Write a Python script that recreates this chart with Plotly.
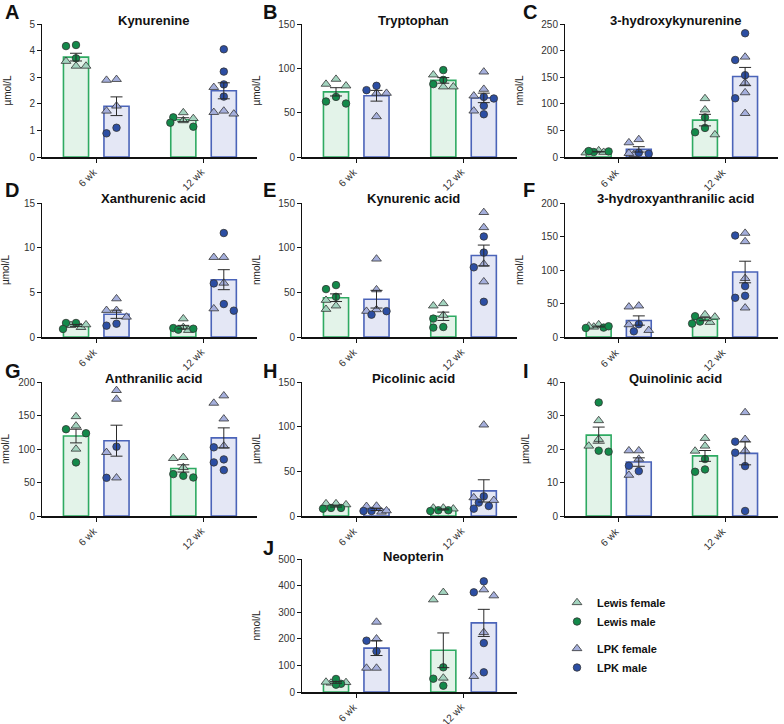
import numpy as np
import plotly.graph_objects as go

# ---------------- data ----------------
groups = ["6 wk", "12 wk"]
series_names = ["Lewis female", "Lewis male", "LPK female", "LPK male"]

titles = ["Kynurenine", "Tryptophan", "3-hydroxykynurenine", "Xanthurenic acid",
          "Kynurenic acid", "3-hydroxyanthranilic acid", "Anthranilic acid",
          "Picolinic acid", "Quinolinic acid", "Neopterin"]
letters = ["A", "B", "C", "D", "E", "F", "G", "H", "I", "J"]
units = ["µmol/L", "µmol/L", "nmol/L", "µmol/L", "nmol/L", "nmol/L", "nmol/L",
         "µmol/L", "µmol/L", "nmol/L"]
y_max = [5, 150, 250, 15, 150, 200, 200, 150, 40, 500]
y_dtick = [1, 50, 50, 5, 50, 50, 50, 50, 10, 100]

# each: [6 wk values, 12 wk values]
kynurenine = {
    "lewis_f": [[3.42, 3.6, 3.42], [1.67, 1.45, 1.37]],
    "lewis_m": [[4.21, 4.17, 3.71], [1.49, 1.14, 1.29]],
    "lpk_f": [[2.89, 2.92, 1.73, 1.92], [2.62, 1.62, 1.73, 1.68]],
    "lpk_m": [[0.89, 1.10], [4.05, 3.21, 2.73, 2.27]],
}
tryptophan = {
    "lewis_f": [[87.8, 80.3, 82.2], [79.2, 92.7, 79.2]],
    "lewis_m": [[60.3, 67.8, 62.6], [82.2, 98, 87]],
    "lpk_f": [[72, 45.6, 72], [96, 76.5, 69, 52]],
    "lpk_m": [[75.4, 80.3], [67.8, 48.2, 57.7, 66]],
}
hydroxykynurenine = {
    "lewis_f": [[12, 8, 9], [110, 88.7, 42]],
    "lewis_m": [[9.3, 11.2, 10.5], [74.4, 54.6, 46.5]],
    "lpk_f": [[27, 33, 5, 7], [188, 139.6, 121, 82]],
    "lpk_m": [[8, 6], [232.6, 182.4, 153.8, 110.4]],
}
xanthurenic = {
    "lewis_f": [[1.08, 1.31, 1.38], [2.05, 1.08, 0.75]],
    "lewis_m": [[1.57, 1.57, 0.9], [0.93, 1.0, 0.82]],
    "lpk_f": [[4.29, 2.99, 2.99, 2.24], [8.92, 8.92, 6.04, 3.17]],
    "lpk_m": [[1.27, 1.49], [11.64, 6.0, 3.69, 2.95]],
}
kynurenic = {
    "lewis_f": [[41.2, 31.1, 34.9], [34.9, 37.5, 24.4]],
    "lewis_m": [[53.6, 58.1, 45], [10.5, 11.2, 20.6]],
    "lpk_f": [[87.4, 53, 30.7, 28.9], [139.5, 122.6, 81.7, 61.9]],
    "lpk_m": [[25, 28.9], [112.5, 94.5, 78, 39.4]],
}
hydroxyanthranilic = {
    "lewis_f": [[18.5, 15, 16.5], [30, 33.5, 22]],
    "lewis_m": [[14, 16, 13.5], [20, 31, 23]],
    "lpk_f": [[45, 46.5, 18.5, 10], [155, 142.5, 87.5, 43.5]],
    "lpk_m": [[19, 8.5], [151.5, 76, 61.5, 58.5]],
}
anthranilic = {
    "lewis_f": [[148.5, 134.5, 100], [86, 87.5, 72.5]],
    "lewis_m": [[123.5, 129.5, 80], [57.5, 62.5, 60]],
    "lpk_f": [[187.5, 174.5, 95, 57], [179.5, 168.5, 145, 104.5]],
    "lpk_m": [[103.5, 57], [102.5, 84.5, 68.5, 80]],
}
picolinic = {
    "lewis_f": [[13.9, 13.9, 12.7], [9, 9, 8]],
    "lewis_m": [[9, 9, 8.2], [6.4, 6.4, 5.6]],
    "lpk_f": [[4.5, 10.9, 11.2, 6], [102, 17.6, 20.6]],
    "lpk_m": [[5.6, 5.6], [22, 8.2, 11.2, 15]],
}
quinolinic = {
    "lewis_f": [[28.5, 22.9, 20.9], [20.9, 23.2, 19.4]],
    "lewis_m": [[33.9, 19.2, 19.5], [13.2, 17, 13.9]],
    "lpk_f": [[19.5, 19.5, 17, 12.2], [30.9, 22.9, 19.5]],
    "lpk_m": [[15, 13.4], [22.2, 18.9, 14.9, 1.5]],
}
neopterin = {
    "lewis_f": [[36, 34, 37.6], [374.7, 347, 52.6]],
    "lewis_m": [[31, 49, 27.5], [92.7, 23.8, 50]],
    "lpk_f": [[263, 200, 90, 90], [362, 384.7, 224, 59]],
    "lpk_m": [[193, 153], [416, 374.7, 184, 74]],
}
panels = [kynurenine, tryptophan, hydroxykynurenine, xanthurenic, kynurenic,
          hydroxyanthranilic, anthranilic, picolinic, quinolinic, neopterin]

# ---------------- layout / style ----------------
W, H = 784, 724
FONT = "Arial, Liberation Sans, Helvetica, sans-serif"
col_px = [(42, 257), (302, 517), (565, 778)]
row_px = [(24, 157), (203, 337), (382, 516), (559, 692)]
title_y_px = [20, 198, 378, 556]
letter_y_px = [12, 190, 371, 548]
letter_x_px = [3, 261, 521]
grid_pos = [(0, 0), (1, 0), (2, 0), (0, 1), (1, 1), (2, 1), (0, 2), (1, 2), (2, 2), (1, 3)]

lewis_fill, lewis_line = "#e3f3e9", "#2eaa62"
lpk_fill, lpk_line = "#e4e7f5", "#4b64b9"
col_lewis_f, col_lewis_m = "#a3d4bf", "#13894a"
col_lpk_f, col_lpk_m = "#a5afdc", "#2c4ea3"

bar_pos = {"lewis": [0.0, 2.65], "lpk": [1.0, 3.65]}
tick_pos = [0.5, 3.15]
x_range = [-0.84, 4.47]
px_per_x = (col_px[0][1] - col_px[0][0]) / (x_range[1] - x_range[0])
bar_w = 0.62


def swarm(vals, px_per_y, d_px=10.0, r_px=7.5):
    order = sorted(range(len(vals)), key=lambda i: -vals[i])
    placed = []
    offs = [0.0] * len(vals)
    cands = [0, -1, 1, -0.5, 0.5, -1.3, 1.3]
    for i in order:
        y = vals[i] * px_per_y
        best, best_d = 0.0, -1.0
        for c in cands:
            x = c * d_px
            dmin = min([((x - px) ** 2 + (y - py) ** 2) ** 0.5 for px, py in placed] or [1e9])
            if dmin >= r_px:
                best = x
                break
            if dmin > best_d:
                best, best_d = x, dmin
        placed.append((best, y))
        offs[i] = best / px_per_x
    return offs


def px2paper_x(x):
    return x / W


def px2paper_y(y):
    return 1 - y / H


def mean_sem(f_vals, m_vals):
    means, sems = [], []
    for g in range(2):
        allv = np.array(f_vals[g] + m_vals[g], dtype=float)
        means.append(allv.mean())
        sems.append(allv.std(ddof=1) / np.sqrt(len(allv)))
    return means, sems


fig = go.Figure()
annotations = []

for k, data in enumerate(panels):
    ci, ri = grid_pos[k]
    ax = "" if k == 0 else str(k + 1)
    xref, yref = "x" + ax, "y" + ax
    plot_h = row_px[ri][1] - row_px[ri][0]
    ppy = plot_h / y_max[k]

    for strain, fill, line in [("lewis", lewis_fill, lewis_line), ("lpk", lpk_fill, lpk_line)]:
        means, sems = mean_sem(data[strain + "_f"], data[strain + "_m"])
        fig.add_trace(go.Bar(
            x=bar_pos[strain], y=means, width=bar_w, xaxis=xref, yaxis=yref,
            marker=dict(color=fill, line=dict(color=line, width=1.6)),
            showlegend=False, hoverinfo="skip"))

    for strain in ["lewis", "lpk"]:
        f_vals, m_vals = data[strain + "_f"], data[strain + "_m"]
        fx, fy, mx, my = [], [], [], []
        for g in range(2):
            offs = swarm(f_vals[g] + m_vals[g], ppy)
            nf = len(f_vals[g])
            base = bar_pos[strain][g]
            fx += [base + o for o in offs[:nf]]
            fy += f_vals[g]
            mx += [base + o for o in offs[nf:]]
            my += m_vals[g]
        if strain == "lewis":
            specs = [("Lewis female", fx, fy, "triangle-up", col_lewis_f, 8.5, "lewis"),
                     ("Lewis male", mx, my, "circle", col_lewis_m, 7.5, "lewis")]
        else:
            specs = [("LPK female", fx, fy, "triangle-up", col_lpk_f, 8.5, "lpk"),
                     ("LPK male", mx, my, "circle", col_lpk_m, 7.5, "lpk")]
        for name, xs, ys, sym, colr, sz, lg in specs:
            fig.add_trace(go.Scatter(
                x=xs, y=ys, mode="markers", name=name, xaxis=xref, yaxis=yref,
                legendgroup=lg, showlegend=(k == 0), cliponaxis=False,
                marker=dict(symbol=sym, color=colr, size=sz,
                            line=dict(color="#333333", width=0.8))))

    # error bars (mean +/- SEM)
    for strain in ["lewis", "lpk"]:
        means, sems = mean_sem(data[strain + "_f"], data[strain + "_m"])
        fig.add_trace(go.Scatter(
            x=bar_pos[strain], y=means, mode="markers", xaxis=xref, yaxis=yref,
            marker=dict(size=0.1, color="rgba(0,0,0,0)"), showlegend=False,
            hoverinfo="skip", cliponaxis=False,
            error_y=dict(type="data", array=sems, visible=True, color="#2a2a2a",
                         thickness=1, width=6)))

    xd = [px2paper_x(col_px[ci][0]), px2paper_x(col_px[ci][1])]
    yd = [px2paper_y(row_px[ri][1]), px2paper_y(row_px[ri][0])]
    fig.layout["xaxis" + ax] = dict(
        domain=xd, range=x_range, anchor=yref, showgrid=False, zeroline=False,
        showline=True, linecolor="#111111", linewidth=1.5, automargin=False,
        ticks="outside", ticklen=4, tickwidth=1, tickcolor="#111111",
        tickvals=tick_pos, showticklabels=False, fixedrange=True)
    fig.layout["yaxis" + ax] = dict(
        domain=yd, range=[0, y_max[k]], dtick=y_dtick[k], anchor=xref,
        showgrid=False, zeroline=False, showline=True, linecolor="#111111",
        linewidth=1, ticks="outside", ticklen=4, tickwidth=1, tickcolor="#111111",
        automargin=False,
        tickfont=dict(size=10, color="#333333", family=FONT),
        title=dict(text=units[k], font=dict(size=10, color="#222222", family=FONT)),
        fixedrange=True)

    # rotated group labels under each x tick
    for tv, lab in zip(tick_pos, groups):
        annotations.append(dict(
            text=lab, xref=xref, yref="paper", x=tv, y=yd[0],
            xanchor="right", yanchor="top", xshift=6, yshift=-6,
            textangle=-45, showarrow=False,
            font=dict(size=10, color="#333333", family=FONT)))

    annotations.append(dict(
        text="<b>" + titles[k] + "</b>", xref="paper", yref="paper",
        x=(xd[0] + xd[1]) / 2 + 4 / W, y=px2paper_y(title_y_px[ri]),
        xanchor="center", yanchor="middle", showarrow=False,
        font=dict(size=13, color="#111111", family=FONT)))
    annotations.append(dict(
        text="<b>" + letters[k] + "</b>", xref="paper", yref="paper",
        x=px2paper_x(letter_x_px[ci]), y=px2paper_y(letter_y_px[ri]),
        xanchor="left", yanchor="middle", showarrow=False,
        font=dict(size=20, color="#111111", family=FONT)))

fig.update_layout(
    width=W, height=H, margin=dict(l=0, r=0, t=0, b=0, autoexpand=False),
    paper_bgcolor="white", plot_bgcolor="white",
    font=dict(family=FONT), barmode="overlay",
    annotations=annotations,
    legend=dict(x=px2paper_x(557), y=px2paper_y(588), xanchor="left", yanchor="top",
                traceorder="grouped", tracegroupgap=8, bgcolor="rgba(0,0,0,0)",
                font=dict(size=11, color="#111111", family=FONT, weight="bold"),
                itemclick=False, itemdoubleclick=False),
)

fig.write_html("out.html", config={"displayModeBar": False},
               post_script="document.body.style.margin='0';document.body.style.overflow='hidden';")
